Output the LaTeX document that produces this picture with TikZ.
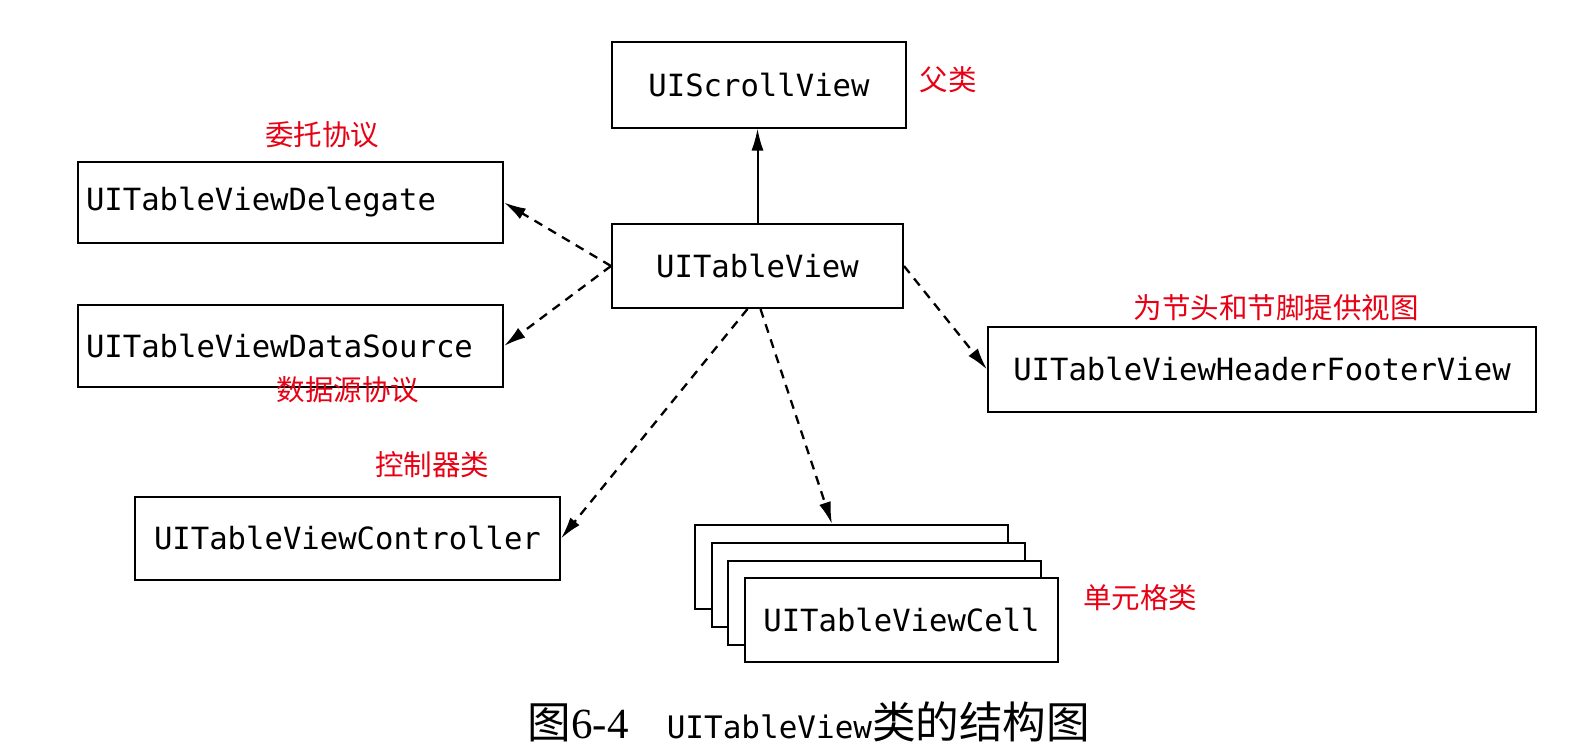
\documentclass[tikz,border=0pt]{standalone}
\usepackage{fontspec}
\setmainfont{Liberation Serif}
\newfontfamily\cjk{Noto Sans CJK SC}
\newfontfamily\codefont{DejaVu Sans Mono}
\usetikzlibrary{arrows.meta}
\definecolor{annred}{RGB}{232,0,20}
\tikzset{
 classbox/.style={draw, line width=2pt, fill=white, inner sep=0pt, font=\codefont\fontsize{30.6}{36}\selectfont},
 leftbox/.style={classbox, align=left, text width=#1},
 note/.style={text=annred, font=\cjk\fontsize{28.5}{34}\selectfont, inner sep=0pt},
 link/.style={line width=2.3pt, dash pattern=on 9pt off 7pt, -{Latex[length=22pt,width=12pt]}},
 inherit/.style={line width=2pt, -{Latex[length=22pt,width=12pt]}},
}
\begin{document}
\begin{tikzpicture}[x=1pt,y=-1pt]
\useasboundingbox[fill=white] (0,0) rectangle (1572,752);
% boxes
\node[classbox, minimum width=294pt, minimum height=85pt] (scroll) at (759,85) {UIScrollView};
\node[classbox, minimum width=291pt, minimum height=84pt] (tv) at (757.5,266) {UITableView};
\node[leftbox=409pt, minimum width=425pt, minimum height=81pt] (del) at (290.5,202.5) {UITableViewDelegate};
\node[leftbox=409pt, minimum width=425pt, minimum height=82pt] (ds) at (290.5,346) {UITableViewDataSource};
\node[classbox, minimum width=425pt, minimum height=83pt] (ctrl) at (347.5,538.5) {UITableViewController};
\node[classbox, minimum width=548pt, minimum height=85pt] (hf) at (1262,369.5) {UITableViewHeaderFooterView};
% cell stack
\node[classbox, minimum width=313pt, minimum height=84pt] (cell1) at (851.5,567) {};
\node[classbox, minimum width=313pt, minimum height=84pt] (cell2) at (868.5,585) {};
\node[classbox, minimum width=313pt, minimum height=84pt] (cell3) at (884.5,603) {};
\node[classbox, minimum width=313pt, minimum height=84pt] (cell) at (901.5,620) {UITableViewCell};
% notes
\node[note] (n1) at (948,80) {父类};
\node[note] (n2) at (322,135) {委托协议};
\node[note] (n3) at (348,390) {数据源协议};
\node[note] (n4) at (432,465) {控制器类};
\node[note] (n5) at (1276,308) {为节头和节脚提供视图};
\node[note] (n6) at (1140,598) {单元格类};
% connectors
\draw[inherit] (tv.north) -- (tv.north |- scroll.south);
\draw[link] (tv.west) -- (del.east);
\draw[link] (tv.west) -- (ds.east);
\draw[link] ([xshift=-10pt]tv.south) -- (ctrl.east);
\draw[link] ([xshift=3pt]tv.south) -- ([xshift=-19.5pt]cell1.north);
\draw[link] (tv.east) -- (hf.west);
% caption
\node[inner sep=0pt] (caption) at (809,722) {{\cjk\fontsize{43.6}{48}\selectfont 图}{\fontsize{43}{48}\selectfont 6-4}\hspace{38pt}{\codefont\fontsize{31}{36}\selectfont UITableView}{\cjk\fontsize{43.6}{48}\selectfont 类的结构图}};
\end{tikzpicture}
\end{document}
